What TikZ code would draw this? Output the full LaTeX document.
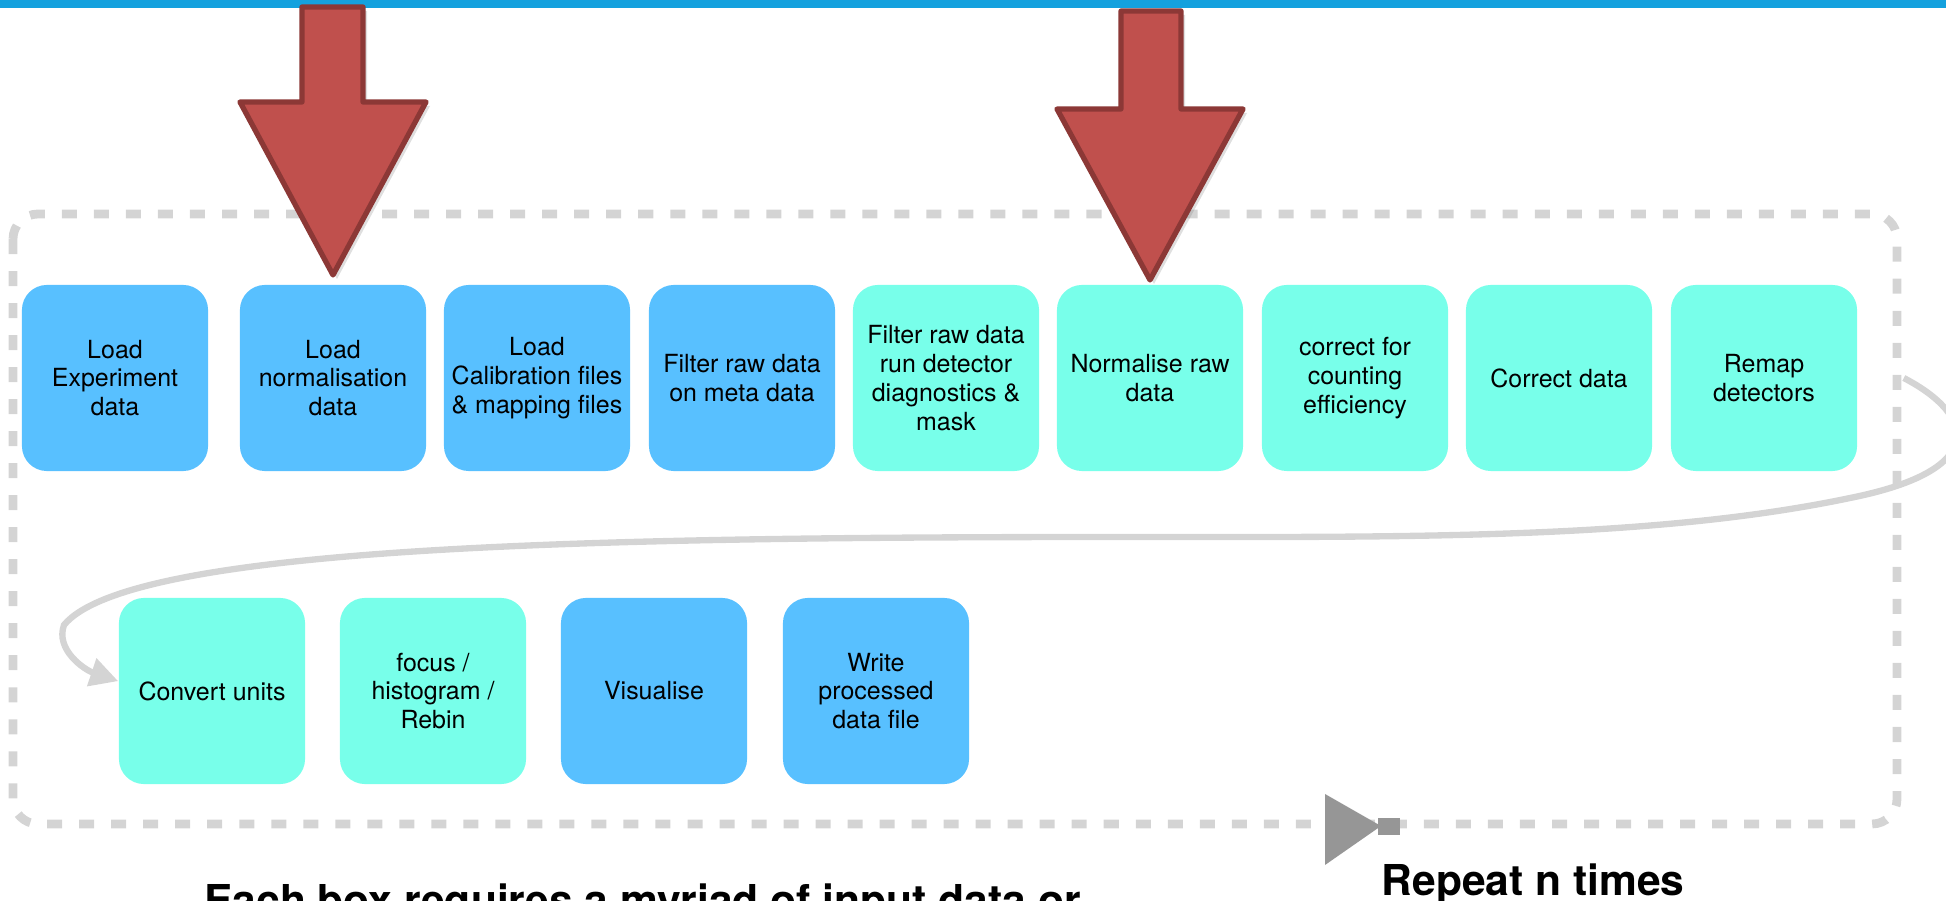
\documentclass[tikz,border=0pt]{standalone}
\usepackage{fontspec}
\setmainfont{TeX Gyre Heros}
\usetikzlibrary{arrows.meta,shadows}
\definecolor{barblue}{RGB}{20,161,222}
\definecolor{ioblue}{RGB}{88,192,255}
\definecolor{stepcyan}{RGB}{120,255,234}
\definecolor{arrowred}{RGB}{192,80,77}
\definecolor{arrowedge}{RGB}{140,56,54}
\definecolor{loopgray}{RGB}{212,212,212}
\definecolor{markgray}{RGB}{150,150,150}

\begin{document}
\begin{tikzpicture}[x=0.01cm,y=-0.01cm,>=Stealth,
  stepbox/.style={rounded corners=0.25cm,minimum width=1.86cm,minimum height=1.86cm,inner sep=1pt,align=center,font=\fontsize{7.1}{8.2}\selectfont},
  iobox/.style={stepbox,fill=ioblue},
  cyanbox/.style={stepbox,fill=stepcyan},
  bigarrow/.style={fill=arrowred,draw=arrowedge,line width=1.5pt,line join=round,drop shadow={opacity=0.25,shadow xshift=0.04cm,shadow yshift=-0.04cm}}]
\useasboundingbox (0,0) rectangle (1946,901);
\clip (0,0) rectangle (1946,901);
\fill[barblue] (0,0) rectangle (1946,8);
\draw[loopgray,line width=2.5pt,dash pattern=on 0.15cm off 0.17cm,rounded corners=0.25cm] (13,214) rectangle (1897,824);
\node[iobox] (sA) at (115,378) {Load\\Experiment\\data};
\node[iobox] (sB) at (333,378) {Load\\normalisation\\data};
\node[iobox] (sC) at (537,378) {Load\\Calibration files\\\& mapping files};
\node[iobox] (sD) at (742,378) {Filter raw data\\on meta data};
\node[cyanbox] (sE) at (946,378) {Filter raw data\\run detector\\diagnostics \&\\mask};
\node[cyanbox] (sF) at (1150,378) {Normalise raw\\data};
\node[cyanbox] (sG) at (1355,378) {correct for\\counting\\efficiency};
\node[cyanbox] (sH) at (1559,378) {Correct data};
\node[cyanbox] (sI) at (1764,378) {Remap\\detectors};
\node[cyanbox] (sJ) at (212,691) {Convert units};
\node[cyanbox] (sK) at (433,691) {focus /\\histogram /\\Rebin};
\node[iobox] (sL) at (654,691) {Visualise};
\node[iobox] (sM) at (876,691) {Write\\processed\\data file};
\draw[loopgray,line width=1.8pt,-{Triangle[length=0.28cm,width=0.28cm]}] ([xshift=0.46cm]sI.east) .. controls (1975,415) and (1990,470) .. (1850,498) .. controls (1650,540) and (1400,537) .. (1120,537) .. controls (600,537) and (130,545) .. (64,625) .. controls (55,650) and (85,670) .. (sJ.174);
\draw[bigarrow] (302,7) -- (363,7) -- (363,102) -- (426,102) -- (333,275) -- (240,102) -- (302,102) -- cycle;
\draw[bigarrow] (1121,11) -- (1181,11) -- (1181,109) -- (1243,109) -- (1150,280) -- (1057,109) -- (1121,109) -- cycle;
\fill[markgray] (1325,794) -- (1381,826) -- (1325,865) -- cycle;
\fill[markgray] (1378,818) rectangle (1400,835);
\node[font=\fontsize{12.1}{14}\selectfont\bfseries,anchor=base] (repeat) at (1533,895) {Repeat n times};
\node[font=\fontsize{12.1}{14}\selectfont\bfseries,anchor=base west] (note) at (192,915) {Each box requires a myriad of input data or};
\end{tikzpicture}
\end{document}
